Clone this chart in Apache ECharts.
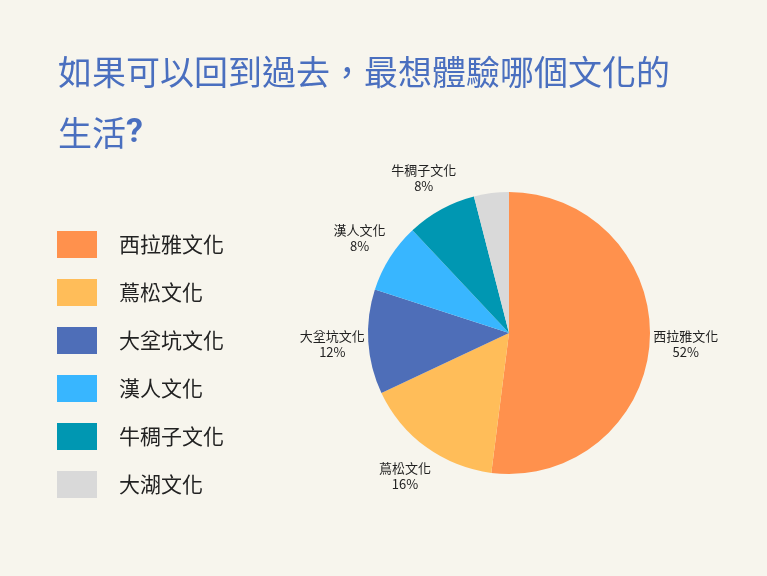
<!DOCTYPE html>
<html>
<head>
<meta charset="utf-8">
<script src="https://cdn.jsdelivr.net/npm/echarts@6/dist/echarts.min.js"></script>
<style>
  html, body { margin: 0; padding: 0; background: #f7f5ed; }
  #chart { width: 767px; height: 576px; }
</style>
</head>
<body>
<div id="chart"></div>
<script>
// 文化名稱
const cultures = ['西拉雅文化', '蔦松文化', '大坌坑文化', '漢人文化', '牛稠子文化', '大湖文化'];
// 票數比例 (%)
const shares = [52, 16, 12, 8, 8, 4];
// 各區塊顏色
const colors = ['#ff914d', '#ffbd59', '#4e6eb8', '#38b6ff', '#0097b2', '#d9d9d9'];
// 不顯示標籤的項目
const hideLabel = ['大湖文化'];

const font = '"Noto Sans CJK TC", "Noto Sans CJK SC", sans-serif';

const myChart = echarts.init(document.getElementById('chart'));

const pieData = cultures.map((name, i) => ({
  name: name,
  value: shares[i],
  itemStyle: { color: colors[i] }
}));

// 外圈透明的 pie 只用來放標籤
const labelData = cultures.map((name, i) => ({
  name: name,
  value: shares[i],
  label: { show: hideLabel.indexOf(name) === -1 }
}));

let option = {
  backgroundColor: '#f7f5ed',
  title: {
    text: '如果可以回到過去，最想體驗哪個文化的\n生活{q|?}',
    left: 53,
    top: 37,
    textStyle: {
      fontFamily: font,
      fontSize: 34,
      fontWeight: 'normal',
      color: '#4a6fbf',
      lineHeight: 61,
      rich: {
        q: {
          fontFamily: 'Roboto, sans-serif',
          fontSize: 34,
          fontWeight: 'bold',
          color: '#4a6fbf',
          lineHeight: 61
        }
      }
    }
  },
  legend: {
    orient: 'vertical',
    left: 52,
    top: 226,
    icon: 'rect',
    itemWidth: 40,
    itemHeight: 27,
    itemGap: 21,
    data: cultures,
    textStyle: {
      fontFamily: font,
      fontSize: 21,
      color: '#222',
      padding: [0, 0, 0, 17]
    }
  },
  series: [
    {
      name: '文化',
      type: 'pie',
      center: [509, 333],
      radius: 141,
      startAngle: 90,
      clockwise: true,
      label: { show: false },
      labelLine: { show: false },
      emphasis: { disabled: true },
      data: pieData
    },
    {
      name: '標籤',
      type: 'pie',
      center: [509, 333],
      radius: [150, 198],
      startAngle: 90,
      clockwise: true,
      silent: true,
      itemStyle: { color: 'rgba(0,0,0,0)' },
      label: {
        show: true,
        position: 'inside',
        formatter: '{b}\n{d}%',
        fontFamily: font,
        fontSize: 13,
        lineHeight: 16,
        color: '#222'
      },
      labelLine: { show: false },
      emphasis: { disabled: true },
      data: labelData
    }
  ]
};

option && myChart.setOption(option);
</script>
</body>
</html>
